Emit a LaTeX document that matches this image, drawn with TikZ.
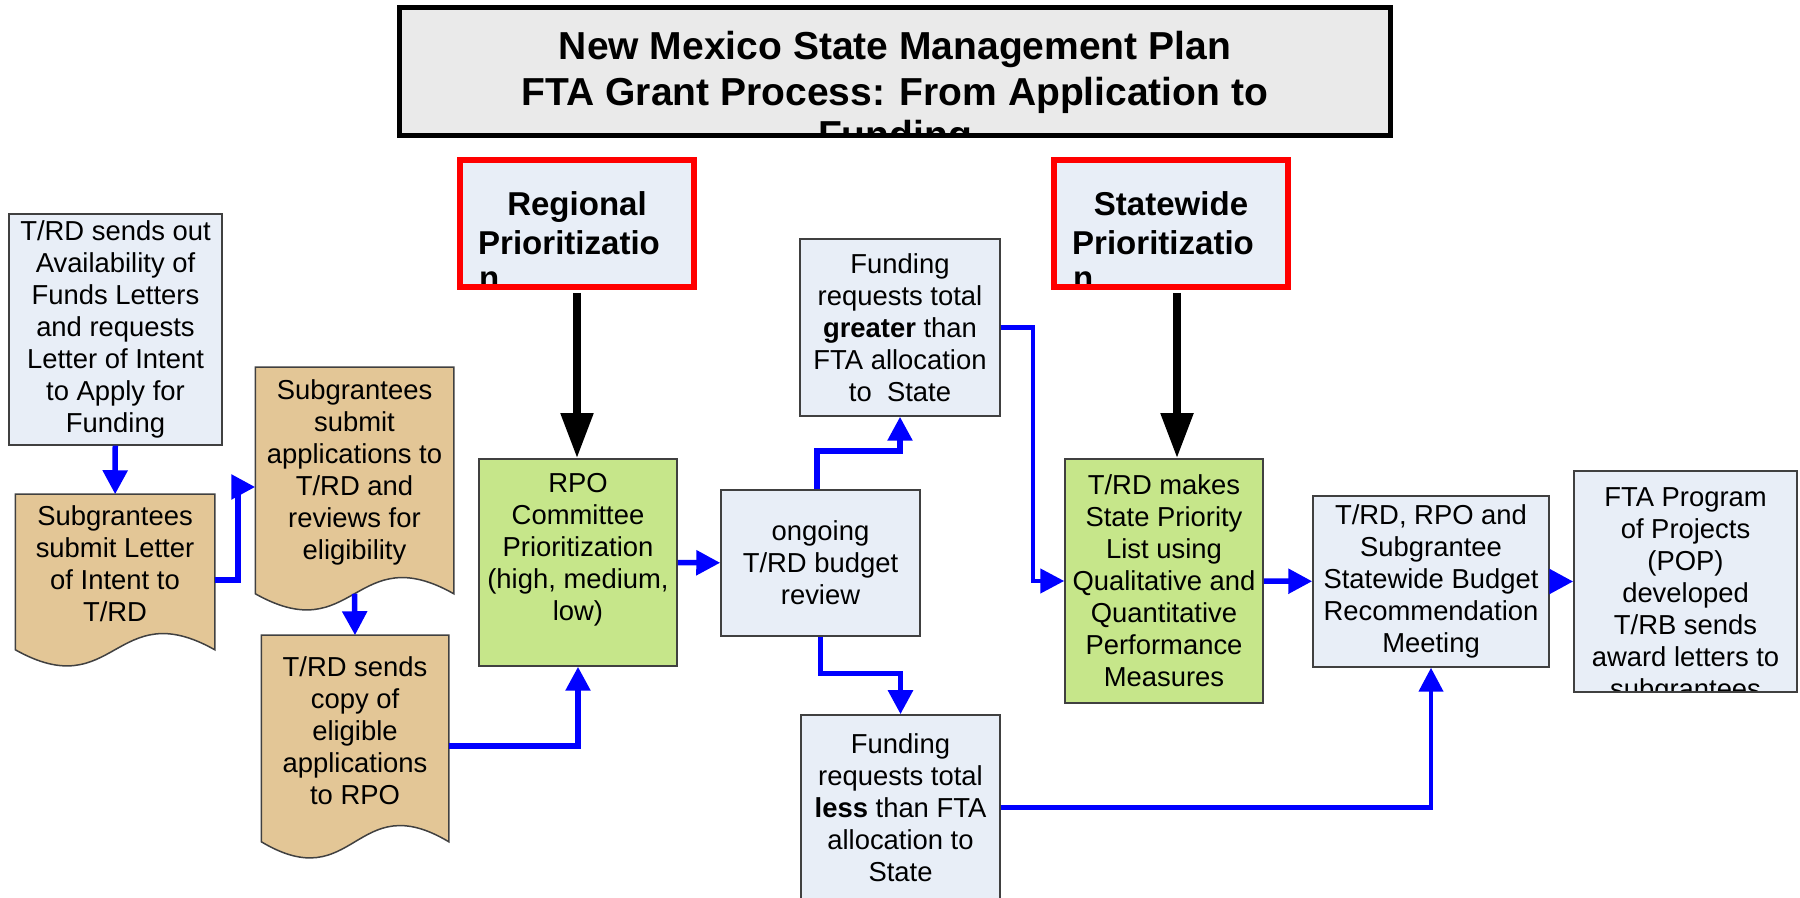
\documentclass[tikz,border=0pt]{standalone}
\usepackage{fontspec}
\setmainfont{Liberation Sans}
\usetikzlibrary{arrows.meta,backgrounds}
\definecolor{flowblue}{HTML}{0000FF}
\definecolor{boxline}{HTML}{404040}
\definecolor{paleblue}{HTML}{E8EEF7}
\definecolor{leafgreen}{HTML}{C6E68A}
\definecolor{paper}{HTML}{E3C696}
\definecolor{titlegray}{HTML}{EAEAEA}

\begin{document}
\begin{tikzpicture}[x=0.1mm,y=-0.1mm,
 box/.style={draw=boxline,line width=0.15mm,fill=paleblue,inner sep=0pt,align=center,
  font=\fontsize{7.8}{9.1}\selectfont},
 greenbox/.style={box,fill=leafgreen},
 docbox/.style={box,draw=none,fill=none},
 headbox/.style={draw=red,line width=0.6mm,fill=paleblue,inner sep=0pt},
 titlebox/.style={draw=black,line width=0.5mm,fill=titlegray,inner sep=0pt},
 cliptext/.style={draw=none,fill=none,inner sep=0pt,align=center},
 flow/.style={draw=flowblue,line width=0.55mm,-{Triangle[length=2.4mm,width=2.4mm]}},
 push/.style={draw=black,line width=0.8mm,-{Triangle[length=4.5mm,width=3.1mm]}}]
 \useasboundingbox (0,0) rectangle (1800,898);
 \clip (0,0) rectangle (1800,898);

 \node[titlebox,minimum width=99.1mm,minimum height=12.8mm,
  path picture={\node[cliptext,font=\fontsize{11.1}{13.1}\selectfont\bfseries]
   at ([yshift=-2.25mm]path picture bounding box.center)
   {New Mexico State Management Plan\\FTA Grant Process: From Application to\\[-1pt]Funding};}]
  (title) at (895,71.5) {};
 \node[headbox,minimum width=23.4mm,minimum height=12.7mm,
  path picture={\node[cliptext,font=\fontsize{9.4}{11.1}\selectfont\bfseries]
   at ([yshift=-1.7mm]path picture bounding box.center)
   {Regional\\Prioritizatio\kern1.6mm\\[-1pt]n\phantom{rioritizatio}\kern1.6mm};}]
  (regional) at (577,223.5) {};
 \node[headbox,minimum width=23.4mm,minimum height=12.7mm,
  path picture={\node[cliptext,font=\fontsize{9.4}{11.1}\selectfont\bfseries]
   at ([yshift=-1.7mm]path picture bounding box.center)
   {Statewide\\Prioritizatio\kern1.6mm\\[-1pt]n\phantom{rioritizatio}\kern1.6mm};}]
  (statewide) at (1171,223.5) {};

 \node[box,minimum width=21.3mm,minimum height=23.1mm] (sendout) at (115.5,329.5)
  {T/RD sends out\\Availability of\\Funds Letters\\and requests\\Letter of Intent\\to Apply for\\Funding};
 \node[docbox,minimum width=19.8mm,minimum height=13.8mm] (letter) at (115,564)
  {Subgrantees\\submit Letter\\of Intent to\\T/RD};
 \node[docbox,minimum width=19.7mm,minimum height=20.9mm] (apps) at (354.5,472.5)
  {Subgrantees\\submit\\applications to\\T/RD and\\reviews for\\eligibility};
 \node[docbox,minimum width=18.6mm,minimum height=18.9mm] (copy) at (355,730.5)
  {T/RD sends\\copy of\\eligible\\applications\\to RPO};
 \node[greenbox,minimum width=19.8mm,minimum height=20.7mm] (rpo) at (578,562.5)
  {RPO\\Committee\\Prioritization\\(high, medium,\\low)\\\mbox{}};
 \node[box,minimum width=19.9mm,minimum height=14.6mm] (ongoing) at (820.5,563)
  {ongoing\\T/RD budget\\review};
 \node[box,minimum width=20mm,minimum height=17.7mm] (greater) at (900,327.5)
  {Funding\\requests total\\\textbf{greater} than\\FTA allocation\\to\ \ State};
 \node[box,minimum width=19.9mm,minimum height=18.5mm] (less) at (900.5,807.5)
  {Funding\\requests total\\\textbf{less} than FTA\\allocation to\\State};
 \node[greenbox,minimum width=19.8mm,minimum height=24.4mm] (makes) at (1164,581)
  {T/RD makes\\State Priority\\List using\\Qualitative and\\Quantitative\\Performance\\Measures};
 \node[box,minimum width=23.6mm,minimum height=17.1mm] (budget) at (1431,581.5)
  {T/RD, RPO and\\Subgrantee\\Statewide Budget\\Recommendation\\Meeting};
 \node[box,minimum width=22.3mm,minimum height=22.1mm,
  path picture={\node[cliptext,font=\fontsize{7.8}{9.1}\selectfont]
   at ([yshift=-1.45mm]path picture bounding box.center)
   {FTA Program\\of Projects\\(POP)\\developed\\T/RB sends\\award letters to\\subgrantees};}]
  (fta) at (1685.5,581.5) {};

 % wavy-bottom document shapes behind the text
 \begin{scope}[on background layer]
  \foreach \d in {letter,apps,copy}
   \draw[draw=boxline,line width=0.15mm,fill=paper] (\d.north west) -- (\d.north east)
    -- ([yshift=-1.6mm]\d.south east) .. controls ([yshift=4mm]\d.south) and ([yshift=-7.2mm]\d.south)
    .. ([yshift=-1.6mm]\d.south west) -- cycle;
 \end{scope}

 \draw[flow] (sendout) -- (letter);
 \draw[flow] ([yshift=-1.6mm]letter.east) -- ++(23,0) |- ([yshift=-1.45mm]apps.west);
 \draw[flow] ([yshift=-1.6mm]apps.south) -- (copy.north);
 \draw[flow] ([yshift=-1.55mm]copy.east) -| (rpo.south);
 \draw[flow] (rpo) -- (ongoing);
 \draw[flow] ([xshift=-0.35mm]ongoing.north) -- ++(0,-38) -| (greater.south);
 \draw[flow] (ongoing.south) -- ++(0,37) -| (less.north);
 \draw[flow,line width=0.45mm] (greater.east) -- ++(32,0) |- (makes.west);
 \draw[flow] (makes) -- (budget);
 \draw[flow] (budget) -- (fta);
 \draw[flow,line width=0.45mm] (less.east) -| (budget.south);
 \draw[push,shorten <=0.3mm] (regional.south) -- (regional.south |- rpo.north);
 \draw[push,shorten <=0.3mm] ([xshift=0.6mm]statewide.south) -- ([xshift=0.6mm]statewide.south |- makes.north);
\end{tikzpicture}
\end{document}
